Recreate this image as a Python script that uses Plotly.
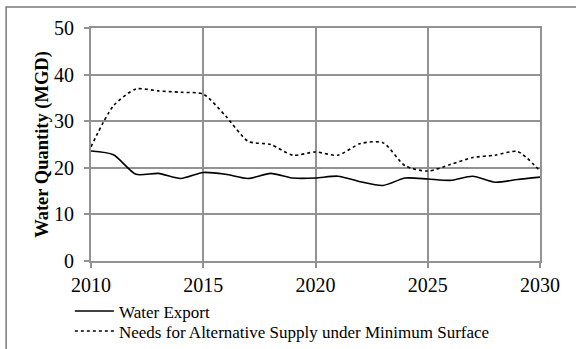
import plotly.graph_objects as go

years = list(range(2010, 2031))
water_export = [23.6, 22.8, 18.6, 18.8, 17.7, 19.0, 18.6, 17.7, 18.8, 17.8, 17.8,
                18.2, 17.0, 16.2, 17.8, 17.6, 17.3, 18.2, 16.9, 17.5, 18.0]
alt_supply = [24.5, 33.3, 36.9, 36.5, 36.2, 35.8, 31.1, 25.7, 25.0, 22.7, 23.4,
              22.7, 25.2, 25.4, 20.4, 19.3, 20.7, 22.2, 22.7, 23.5, 19.3]
series_names = ["Water Export", "Needs for Alternative Supply under Minimum Surface"]
x_ticks = [2010, 2015, 2020, 2025, 2030]
y_ticks = [0, 10, 20, 30, 40, 50]
y_title = "Water Quantity (MGD)"

FONT = "Liberation Serif, Times New Roman, Times, serif"
GRID = "#929292"

fig = go.Figure()
fig.add_trace(go.Scatter(x=years, y=water_export, name=series_names[0], mode="lines",
                         line=dict(color="black", width=1.6, shape="spline", smoothing=0.7)))
fig.add_trace(go.Scatter(x=years, y=alt_supply, name=series_names[1], mode="lines",
                         line=dict(color="black", width=1.6, dash="dot", shape="spline", smoothing=0.7)))

# manual legend (compact line spacing like the reference)
legend_y = [-0.2146, -0.3004]
dashes = ["solid", "dot"]
shapes = [dict(type="rect", xref="paper", yref="paper", x0=-0.189, x1=2, y0=-2, y1=1.09,
               line=dict(color="#7a7a7a", width=1.5), fillcolor="rgba(0,0,0,0)", layer="below")]
annotations = []
for name, ly, dsh in zip(series_names, legend_y, dashes):
    shapes.append(dict(type="line", xref="paper", yref="paper", x0=-0.036, x1=0.051, y0=ly, y1=ly,
                       line=dict(color="black", width=1.6, dash=dsh)))
    annotations.append(dict(text=name, xref="paper", yref="paper", x=0.060, y=ly - 0.008,
                            xanchor="left", yanchor="middle", showarrow=False, borderpad=0,
                            font=dict(family=FONT, size=17, color="black")))

fig.update_layout(
    width=576, height=349,
    margin=dict(l=91, r=36, t=28, b=88),
    paper_bgcolor="white", plot_bgcolor="white",
    font=dict(family=FONT, size=19, color="black"),
    showlegend=False,
    xaxis=dict(range=[2010, 2030], tickvals=x_ticks, showgrid=True, gridcolor=GRID, gridwidth=2,
               showline=True, linecolor=GRID, linewidth=2, mirror=True,
               ticks="outside", ticklen=5, tickcolor=GRID, tickwidth=2, ticklabelstandoff=0,
               tickfont=dict(family=FONT, size=20), zeroline=False),
    yaxis=dict(range=[0, 50], tickvals=y_ticks, showgrid=True, gridcolor=GRID, gridwidth=2,
               showline=True, linecolor=GRID, linewidth=2, mirror=True,
               ticks="outside", ticklen=5, tickcolor=GRID, tickwidth=2, ticklabelstandoff=6,
               tickfont=dict(family=FONT, size=20), zeroline=False,
               title=dict(text="<b>" + y_title + "</b>", font=dict(family=FONT, size=18.5), standoff=1)),
    shapes=shapes,
    annotations=annotations,
)

fig.write_html("out.html", config={"displayModeBar": False},
               post_script="document.body.style.margin='0';")
